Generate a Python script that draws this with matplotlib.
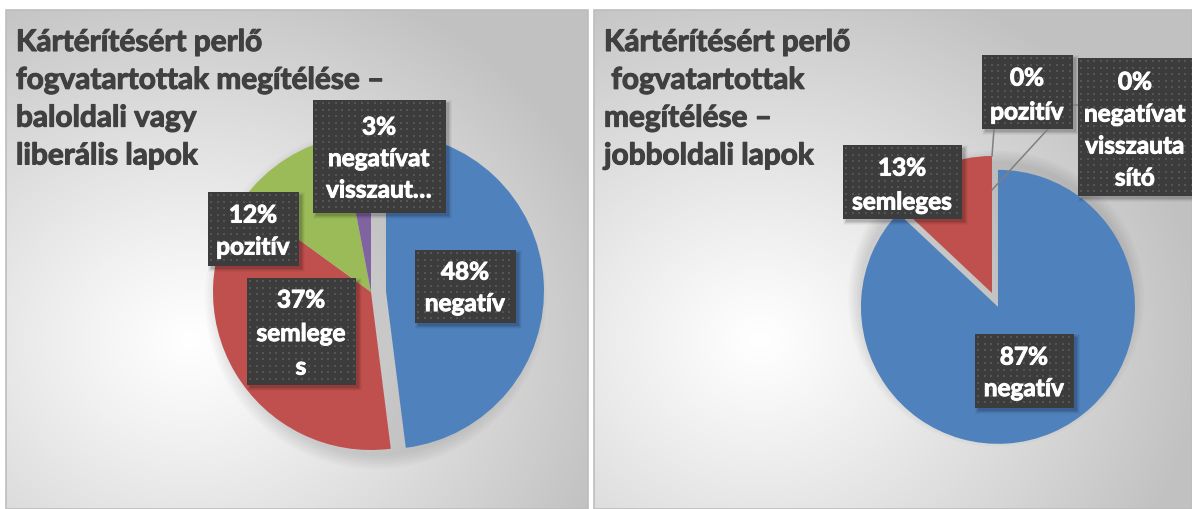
import numpy as np
import matplotlib
matplotlib.use('Agg')
import matplotlib.pyplot as plt
import matplotlib.patheffects as pe
from matplotlib.patches import Rectangle, Circle

W, H, DPI = 1192, 509, 100

# data
categories = ['negatív', 'semleges', 'pozitív', 'negatívat visszautasító']
left_values = [48, 37, 12, 3]
right_values = [87, 13, 0, 0]
colors = ['#4f81bd', '#c0504d', '#9bbb59', '#8064a2']

left_title = ['Kártérítésért perlő', 'fogvatartottak megítélése –', 'baloldali vagy', 'liberális lapok']
right_title = ['Kártérítésért perlő', ' fogvatartottak', 'megítélése –', 'jobboldali lapok']

# category text as Excel wrapped / cut it inside the label boxes
left_label_lines = [['negatív'], ['semlege', 's'], ['pozitív'], ['negatívat', 'visszaut…']]
right_label_lines = [['negatív'], ['semleges'], ['pozitív'], ['negatívat', 'visszauta', 'sító']]

# layout (pixels): label boxes x0, y0, x1, y1, text centre x, first line centre y, line step
left_boxes = [(415, 250, 516, 323, 465, 272, 31.5),
              (247, 278, 356, 385, 301, 300, 33.5),
              (208, 192, 299, 266, 253, 215, 32),
              (313, 100, 446, 213, 379, 127, 31.5)]
right_boxes = [(975, 334, 1074, 408, 1024, 357, 31.5),
               (843, 145, 962, 219, 902, 168, 34),
               (982, 55, 1073, 129, 1027, 78, 34),
               (1078, 58, 1196, 196, 1135, 82, 32)]

FONT = 'Lato'
TEXT_DARK = '#404040'

fig = plt.figure(figsize=(W / DPI, H / DPI), dpi=DPI)
fig.patch.set_facecolor('white')

# ---- background panels
bg = fig.add_axes([0, 0, 1, 1])
bg.axis('off')


def panel_bg(x0, x1, y0, y1, cx, cy):
    xs = np.arange(x0, x1) + 0.5
    ys = np.arange(y0, y1) + 0.5
    X, Y = np.meshgrid(xs, ys)
    d = np.hypot(X - cx, (Y - cy) * 1.15)
    t = np.clip(d / 440, 0, 1) ** 1.1
    g = 1 - t * (1 - 0.76)
    bg.imshow(np.dstack([g, g, g]), extent=(x0, x1, y1, y0),
              interpolation='bilinear', aspect='auto', zorder=0)
    bg.add_patch(Rectangle((x0, y0), x1 - x0, y1 - y0, fill=False,
                           ec='#bdbdbd', lw=1.2, zorder=1))


panel_bg(6, 588, 10, 509, 190, 340)
panel_bg(594, 1192, 10, 509, 760, 340)
bg.set_xlim(0, W)
bg.set_ylim(H, 0)


# ---- pies
def draw_pie(values, cx, cy, r, explode):
    k = 1.25
    ax = fig.add_axes([(cx - k * r) / W, (H - cy - k * r) / H, 2 * k * r / W, 2 * k * r / H])
    for i in range(6):
        ax.add_patch(Circle((0.03, -0.04), 1.0 + 0.016 * i, color='black',
                            alpha=0.018, lw=0, zorder=0))
    ax.pie(values, colors=colors, startangle=90, counterclock=False,
           explode=[explode, 0, 0, 0], radius=1,
           wedgeprops=dict(linewidth=0, zorder=2))
    ax.set_xlim(-k, k)
    ax.set_ylim(-k, k)
    ax.axis('off')
    return ax


draw_pie(left_values, 371, 292, 158, 0.095)
draw_pie(right_values, 992, 293, 137, 0.11)

# ---- overlay for titles and labels
ov = fig.add_axes([0, 0, 1, 1])
ov.set_xlim(0, W)
ov.set_ylim(H, 0)
ov.axis('off')
ov.patch.set_alpha(0)


def fit_size(text, target_px, base=20):
    t = ov.text(0, 0, text, fontsize=base, family=FONT, weight='bold')
    fig.canvas.draw()
    w = t.get_window_extent().width
    t.remove()
    return base * target_px / w


title_size = fit_size('fogvatartottak megítélése –', 368)
label_size = fit_size('negatív', 80)

for x, lines in [(16, left_title), (604, right_title)]:
    for i, line in enumerate(lines):
        ov.text(x, 51 + 37.8 * i, line, fontsize=title_size, family=FONT,
                weight='bold', color=TEXT_DARK, va='baseline', ha='left', zorder=3,
                path_effects=[pe.withStroke(linewidth=0.8, foreground=TEXT_DARK)])


def label_box(box, lines):
    x0, y0, x1, y1, tx, ty, step = box
    w, h = x1 - x0, y1 - y0
    for i, a in enumerate([0.10, 0.07, 0.05, 0.03]):
        ov.add_patch(Rectangle((x0 + 3 - i, y0 + 3 - i), w + 2 * i, h + 2 * i,
                               fc='black', ec='none', alpha=a, zorder=4))
    ov.add_patch(Rectangle((x0, y0), w, h, fc='#3c3c3c', ec='none', zorder=5))
    xs = np.arange(x0 + 3, x1 - 1, 6.5)
    ys = np.arange(y0 + 3, y1 - 1, 6.5)
    X, Y = np.meshgrid(xs, ys)
    ov.scatter(X.ravel(), Y.ravel(), s=1.0, marker='s', color='#555555',
               lw=0, zorder=6)
    base_off = label_size * DPI / 72 * 0.31
    for i, line in enumerate(lines):
        ov.text(tx, ty + step * i + base_off, line, fontsize=label_size, family=FONT,
                weight='bold', color='white', ha='center', va='baseline', zorder=7,
                path_effects=[pe.withStroke(linewidth=0.7, foreground='white')])


# leader lines for the 0% labels (right chart)
ov.plot([992, 994], [156, 129], color='#7f7f7f', lw=1.1, zorder=4.5)
ov.plot([992, 1070, 1078], [190, 105, 105], color='#7f7f7f', lw=1.1, zorder=4.5)

for v, extra, box in zip(left_values, left_label_lines, left_boxes):
    label_box(box, [f'{v}%'] + extra)
for v, extra, box in zip(right_values, right_label_lines, right_boxes):
    label_box(box, [f'{v}%'] + extra)

fig.savefig('out.png', dpi=DPI, facecolor='white')
